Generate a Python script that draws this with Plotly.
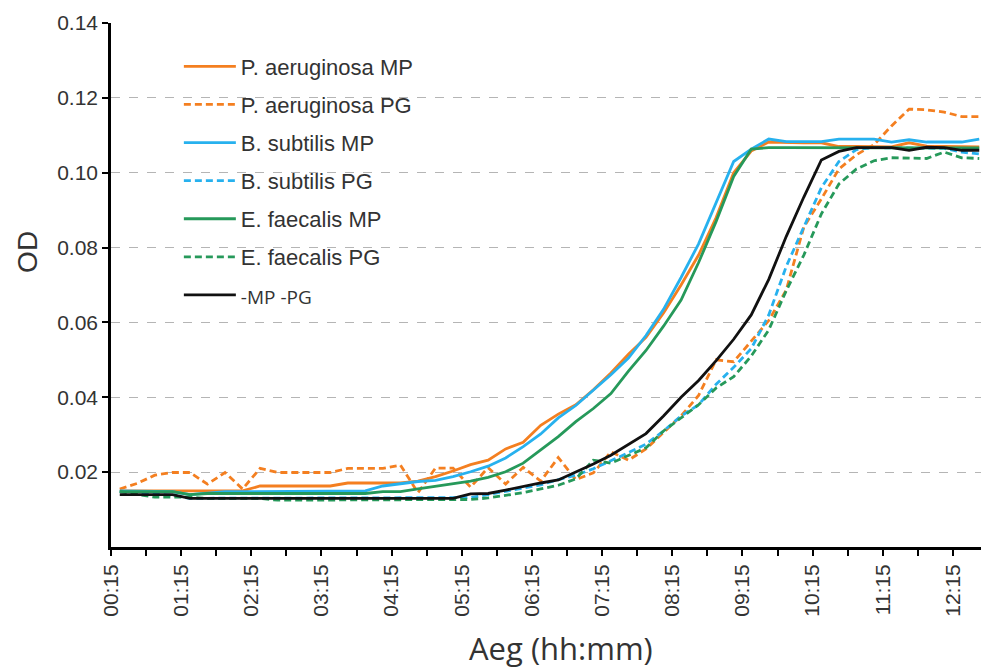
import plotly.graph_objects as go

# sample times (hours), every 15 min starting 00:22:30
time_h = [0.375 + 0.25 * i for i in range(50)]

pa_mp = [0.015, 0.015, 0.015, 0.015, 0.015, 0.015, 0.015, 0.015,
         0.0163, 0.0163, 0.0163, 0.0163, 0.0163,
         0.0171, 0.0171, 0.0171, 0.0171,
         0.0176, 0.0188, 0.0203, 0.022, 0.0232, 0.0262, 0.028, 0.0325, 0.0355,
         0.038, 0.042, 0.0465, 0.0515, 0.056, 0.0625, 0.07, 0.078, 0.088, 0.1,
         0.1058, 0.1082, 0.108, 0.108, 0.108, 0.107, 0.107, 0.1069, 0.1069,
         0.108, 0.1071, 0.107, 0.1069, 0.1069]

pa_pg = [0.0155, 0.017, 0.0192, 0.0199, 0.0199, 0.0168, 0.0199, 0.0155, 0.021,
         0.0199, 0.0199, 0.0199, 0.0199, 0.021, 0.021, 0.021, 0.0219, 0.0145,
         0.0211, 0.0211, 0.016, 0.0212, 0.0168, 0.0213, 0.0176, 0.0239, 0.018,
         0.0198, 0.0254, 0.0232, 0.0262, 0.0305, 0.035, 0.0405, 0.05, 0.0495,
         0.055, 0.0605, 0.0687, 0.0855, 0.093, 0.101, 0.1048, 0.1075, 0.1125,
         0.117, 0.1168, 0.1162, 0.115, 0.115]

bs_mp = [0.015, 0.015, 0.015, 0.0148, 0.014, 0.0145, 0.0148, 0.0148, 0.0148,
         0.0148, 0.0148, 0.0148, 0.0148, 0.0148, 0.015, 0.0163, 0.017, 0.0175,
         0.0178, 0.0188, 0.0201, 0.0216, 0.0238, 0.0268, 0.0302, 0.0345, 0.0378,
         0.0418, 0.046, 0.0505, 0.0565, 0.0635, 0.072, 0.081, 0.092, 0.103,
         0.1063, 0.109, 0.1083, 0.1083, 0.1083, 0.109, 0.109, 0.109, 0.1082,
         0.1088, 0.1082, 0.1082, 0.1082, 0.109]

bs_pg = [0.0148, 0.0145, 0.014, 0.0138,
         0.013, 0.013, 0.013, 0.013, 0.013, 0.013, 0.013, 0.013,
         0.013, 0.013, 0.013, 0.013, 0.013, 0.013, 0.013, 0.013,
         0.0132, 0.014, 0.0148, 0.0156, 0.0166, 0.018, 0.0192, 0.0209, 0.023,
         0.0252, 0.0275, 0.031, 0.035, 0.038, 0.0435, 0.048, 0.053, 0.062,
         0.075, 0.0855, 0.096, 0.103, 0.1062, 0.1067, 0.1067, 0.1067, 0.1067,
         0.1065, 0.1055, 0.105]

ef_mp = [0.0148, 0.0148, 0.0148, 0.0148, 0.014,
         0.0143, 0.0143, 0.0143, 0.0143, 0.0143, 0.0143, 0.0143, 0.0143,
         0.0143, 0.0143,
         0.0148, 0.0148, 0.0155, 0.0162, 0.0168, 0.0176, 0.0186, 0.0201, 0.0224,
         0.026, 0.0295, 0.0335, 0.037, 0.041, 0.047, 0.0525, 0.059, 0.066,
         0.076, 0.087, 0.099, 0.1063,
         0.1067, 0.1067, 0.1067, 0.1067, 0.1067, 0.1067, 0.1067, 0.1067,
         0.1067, 0.1067, 0.1067, 0.1067, 0.1066]

ef_pg = [0.0148, 0.014, 0.0133, 0.0133, 0.0133,
         0.013, 0.013, 0.013, 0.013,
         0.0125, 0.0125, 0.0125, 0.0125, 0.0125, 0.0125, 0.0125, 0.0125,
         0.0125, 0.0125, 0.0125,
         0.0127, 0.0131, 0.0138, 0.0145, 0.0155, 0.0165, 0.0182, 0.0232,
         0.0224, 0.0245, 0.0265, 0.031, 0.0345, 0.038, 0.0425, 0.0455, 0.051,
         0.058, 0.0685, 0.078, 0.089, 0.097, 0.101, 0.1032, 0.104, 0.1038,
         0.1038, 0.1055, 0.104, 0.1038]

ctrl = [0.014, 0.014, 0.014, 0.014,
        0.013, 0.013, 0.013, 0.013, 0.013, 0.013, 0.013, 0.013,
        0.013, 0.013, 0.013, 0.013, 0.013, 0.013, 0.013, 0.013,
        0.0142, 0.0143, 0.0152, 0.0162, 0.0171, 0.0179, 0.02, 0.0222, 0.0245,
        0.0275, 0.0303, 0.035, 0.04, 0.0445, 0.0498, 0.0555, 0.062, 0.0715,
        0.083, 0.0935, 0.1034, 0.1057, 0.1067, 0.1067, 0.1067, 0.106, 0.1068,
        0.1067, 0.106, 0.106]

x_tick_vals = [0.25 + k for k in range(13)]
x_tick_labels = ["00:15", "01:15", "02:15", "03:15", "04:15", "05:15", "06:15",
                 "07:15", "08:15", "09:15", "10:15", "11:15", "12:15"]
x_minor_vals = [0.75 + k for k in range(12)]
y_tick_vals = [0.02, 0.04, 0.06, 0.08, 0.10, 0.12, 0.14]
y_tick_labels = ["0.02", "0.04", "0.06", "0.08", "0.10", "0.12", "0.14"]

ORANGE = "#f47f20"
BLUE = "#27b1ee"
GREEN = "#26995a"
BLACK = "#111111"
DASH = "7px,4px"

series = [
    ("P. aeruginosa MP", pa_mp, ORANGE, "solid"),
    ("P. aeruginosa PG", pa_pg, ORANGE, DASH),
    ("B. subtilis MP", bs_mp, BLUE, "solid"),
    ("B. subtilis PG", bs_pg, BLUE, DASH),
    ("E. faecalis MP", ef_mp, GREEN, "solid"),
    ("E. faecalis PG", ef_pg, GREEN, DASH),
    ("<span style='font-family:Open Sans;font-size:19px'>-MP -PG</span>", ctrl, BLACK, "solid"),
]

fig = go.Figure()
for i, (name, vals, col, dash) in enumerate(series):
    fig.add_trace(go.Scatter(
        x=time_h, y=vals, mode="lines", name=name, legendgroup=f"g{i}",
        line=dict(color=col, width=2.8, dash=dash),
    ))

fig.update_layout(
    width=981, height=672,
    margin=dict(l=111, r=0, t=23, b=125),
    paper_bgcolor="white", plot_bgcolor="white",
    font=dict(family="Liberation Sans, Arial, sans-serif", size=21, color="#333333"),
    showlegend=True,
    legend=dict(
        x=0.078, y=0.957, xanchor="left", yanchor="top",
        bgcolor="rgba(255,255,255,0)", borderwidth=0,
        tracegroupgap=6.5, itemwidth=52,
        font=dict(family="Liberation Sans, Arial, sans-serif", size=22, color="#333333"),
    ),
    shapes=[dict(type="rect", xref="paper", yref="paper",
                 x0=0.045, x1=0.437, y0=0.435, y1=0.985,
                 fillcolor="white", line=dict(width=0), layer="between")],
    annotations=[
        dict(text="Aeg (hh:mm)", xref="paper", yref="paper", x=0.517, y=-0.1927,
             xanchor="center", yanchor="middle", showarrow=False,
             font=dict(family="Open Sans, sans-serif", size=31, color="#333333")),
        dict(text="OD", xref="paper", yref="paper", x=-0.0955, y=0.563,
             xanchor="center", yanchor="middle", showarrow=False, textangle=-90,
             font=dict(family="Liberation Sans, Arial, sans-serif", size=28, color="#333333")),
    ],
    xaxis=dict(
        range=[0.25, 12.65],
        tickmode="array", tickvals=x_tick_vals, ticktext=x_tick_labels,
        tickangle=-90, ticks="outside", ticklen=6, tickwidth=2, tickcolor="black",
        minor=dict(tickmode="array", tickvals=x_minor_vals, ticks="outside",
                   ticklen=6, tickwidth=2, tickcolor="black", showgrid=False),
        showline=True, linecolor="black", linewidth=2.6,
        showgrid=False, zeroline=False,
    ),
    yaxis=dict(
        range=[0, 0.14],
        tickmode="array", tickvals=y_tick_vals, ticktext=y_tick_labels,
        ticks="outside", ticklen=6, tickwidth=2, tickcolor="black",
        showline=True, linecolor="black", linewidth=2.6,
        showgrid=True, gridcolor="#b5b5b5", gridwidth=1.2, griddash="dash",
        zeroline=False,
    ),
)

fig.write_html("out.html")
